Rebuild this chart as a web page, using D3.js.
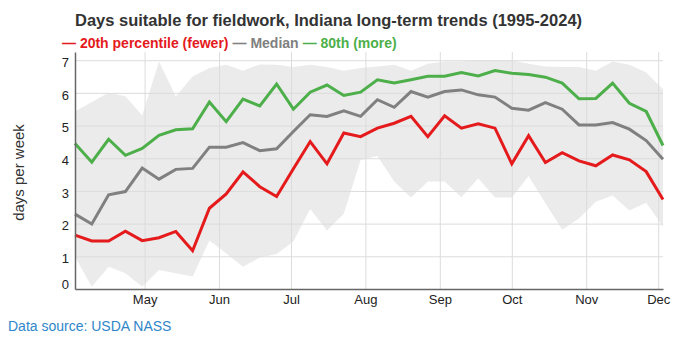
<!DOCTYPE html>
<html>
<head>
<meta charset="utf-8">
<script src="https://cdn.jsdelivr.net/npm/d3@7"></script>
<style>
  body { margin: 0; background: #fff; font-family: "Liberation Sans", Arial, sans-serif; }
  #chart svg { display: block; }
  .source { position: absolute; left: 8px; top: 318px; font-size: 14px; color: #2f86c9; }
</style>
</head>
<body>
<div id="chart"></div>
<div class="source">Data source: USDA NASS</div>
<script>
(function() {
    const width = 676;
    const height = 337;
    const margin = { top: 52, right: 13, bottom: 48, left: 75 };

    // weekly values, first week starting Apr 2
    const weekStart = new Date(2024, 3, 2);
    const weeks = d3.range(36).map(i => d3.timeDay.offset(weekStart, i * 7));

    const p20 = [1.65, 1.47, 1.47, 1.77, 1.48, 1.57, 1.76, 1.17, 2.47, 2.91, 3.58, 3.13,
                 2.83, 3.68, 4.51, 3.83, 4.77, 4.66, 4.92, 5.07, 5.28, 4.66, 5.30, 4.92,
                 5.05, 4.92, 3.83, 4.69, 3.87, 4.17, 3.92, 3.77, 4.10, 3.95, 3.59, 2.74];
    const median = [2.29, 1.99, 2.88, 2.98, 3.70, 3.36, 3.66, 3.69, 4.34, 4.34, 4.48, 4.23,
                    4.29, 4.82, 5.33, 5.28, 5.45, 5.28, 5.79, 5.56, 6.04, 5.87, 6.04, 6.09,
                    5.94, 5.87, 5.53, 5.47, 5.70, 5.50, 5.02, 5.02, 5.09, 4.89, 4.54, 3.97];
    const p80 = [4.45, 3.88, 4.58, 4.09, 4.30, 4.70, 4.87, 4.90, 5.72, 5.12, 5.81, 5.60,
                 6.27, 5.50, 6.02, 6.24, 5.92, 6.02, 6.40, 6.30, 6.40, 6.51, 6.51, 6.62,
                 6.52, 6.68, 6.60, 6.56, 6.48, 6.30, 5.82, 5.83, 6.30, 5.68, 5.43, 4.39];
    const lowest = [0.99, 0.07, 0.68, 0.48, 0.07, 0.58, 0.48, 0.38, 1.48, 1.09, 0.68, 0.96,
                    1.07, 1.45, 2.45, 1.79, 2.30, 3.95, 4.07, 3.29, 2.80, 3.29, 3.29, 2.81,
                    3.39, 2.80, 2.80, 3.46, 2.62, 1.81, 2.16, 2.67, 2.86, 2.40, 2.64, 1.91];
    const highest = [5.43, 5.72, 6.00, 5.90, 5.31, 6.96, 5.89, 6.50, 6.76, 6.86, 6.68, 6.87,
                     6.86, 6.79, 6.86, 6.79, 6.68, 6.76, 6.81, 6.86, 6.68, 6.89, 6.96, 6.96,
                     7.00, 7.00, 7.00, 6.89, 6.81, 6.79, 6.79, 6.68, 6.96, 6.86, 6.62, 6.11];

    const yTicks = [0, 1, 2, 3, 4, 5, 6, 7];
    const series = [
        { name: "20th percentile (fewer)", values: p20, color: "#e41a1c" },
        { name: "Median", values: median, color: "#808080" },
        { name: "80th (more)", values: p80, color: "#4daf4a" }
    ];

    const svg = d3.select("#chart")
        .append("svg")
        .attr("width", width)
        .attr("height", height);

    const x = d3.scaleTime()
        .domain([weeks[0], weeks[weeks.length - 1]])
        .range([margin.left, width - margin.right]);

    const y = d3.scaleLinear()
        .domain([0, 7.25])
        .range([height - margin.bottom, margin.top]);

    // shaded range between lowest and highest years
    const area = d3.area()
        .x((d, i) => x(weeks[i]))
        .y0((d, i) => y(lowest[i]))
        .y1(d => y(d));

    svg.append("path")
        .datum(highest)
        .attr("d", area)
        .attr("fill", "#ebebeb");

    // gridlines
    svg.append("g")
        .attr("transform", `translate(0,${height - margin.bottom})`)
        .call(d3.axisBottom(x).ticks(d3.timeMonth.every(1)).tickSize(-(height - margin.top - margin.bottom)).tickFormat(""))
        .call(g => g.select(".domain").remove())
        .call(g => g.selectAll("line").attr("stroke", "#dcdcdc"));

    svg.append("g")
        .attr("transform", `translate(${margin.left},0)`)
        .call(d3.axisLeft(y).tickValues(yTicks).tickSize(-(width - margin.left - margin.right)).tickFormat(""))
        .call(g => g.select(".domain").remove())
        .call(g => g.selectAll("line").attr("stroke", "#dcdcdc"));

    const line = d3.line()
        .x((d, i) => x(weeks[i]))
        .y(d => y(d));

    svg.selectAll(".series")
        .data(series)
        .enter().append("path")
        .attr("class", "series")
        .attr("d", d => line(d.values))
        .attr("fill", "none")
        .attr("stroke", d => d.color)
        .attr("stroke-width", 3)
        .attr("stroke-linejoin", "miter");

    // axes
    const xAxis = svg.append("g")
        .attr("transform", `translate(0,${height - margin.bottom})`)
        .call(d3.axisBottom(x).ticks(d3.timeMonth.every(1)).tickFormat(d3.timeFormat("%b")).tickSize(0).tickPadding(6));
    xAxis.selectAll("text").filter(d => d.getMonth() === 3).remove();

    const yAxis = svg.append("g")
        .attr("transform", `translate(${margin.left},0)`)
        .call(d3.axisLeft(y).tickValues(yTicks).tickSize(0).tickPadding(6));
    // nudge labels a little below their gridlines, zero sits above the axis
    yAxis.selectAll("text").attr("y", d => d === 0 ? -5 : 2);

    [xAxis, yAxis].forEach(g => {
        g.select(".domain").attr("stroke", "#666").attr("stroke-width", 1.5);
        g.selectAll("text")
            .style("font-family", "Liberation Sans, Arial, sans-serif")
            .style("font-size", "13px")
            .attr("fill", "#222");
    });

    svg.append("text")
        .attr("transform", `translate(24,${(margin.top + height - margin.bottom) / 2 + 2}) rotate(-90)`)
        .attr("text-anchor", "middle")
        .style("font-size", "15px")
        .attr("fill", "#333")
        .text("days per week");

    svg.append("text")
        .attr("x", 75)
        .attr("y", 26)
        .style("font-size", "16.5px")
        .style("font-weight", "bold")
        .attr("fill", "#333")
        .text("Days suitable for fieldwork, Indiana long-term trends (1995-2024)");

    // legend
    const legend = svg.append("text")
        .attr("x", 62)
        .attr("y", 48)
        .style("font-size", "14px")
        .style("font-weight", "bold");

    series.forEach((s, i) => {
        legend.append("tspan")
            .attr("dx", i === 0 ? 0 : 4)
            .attr("fill", s.color)
            .text("\u2014 " + s.name);
    });
})();
</script>
</body>
</html>
